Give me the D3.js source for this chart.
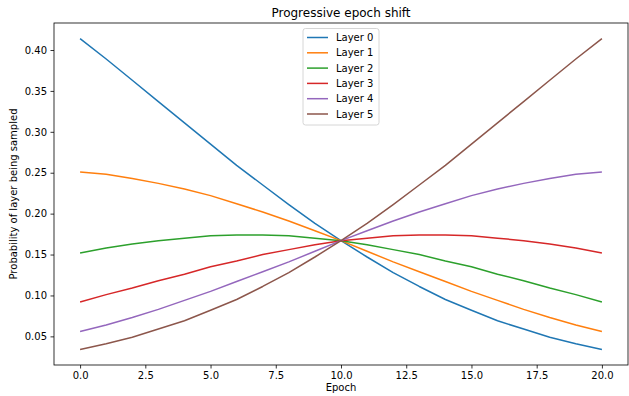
<!DOCTYPE html>
<html>
<head>
<meta charset="utf-8">
<script src="https://cdn.jsdelivr.net/npm/d3@7.9.0/dist/d3.min.js"></script>
<style>
  body { margin: 0; background: #fff; }
  svg { font-family: "DejaVu Sans", sans-serif; }
  .tick text { font-family: "DejaVu Sans", sans-serif; font-size: 10px; fill: #000; }
</style>
</head>
<body>
<svg id="chart" width="629" height="396"></svg>
<script>
// values, one per epoch 0..20
const epochs = d3.range(0, 21);
const layerNames = ['Layer 0', 'Layer 1', 'Layer 2', 'Layer 3', 'Layer 4', 'Layer 5'];
const layer0 = [.414, .389, .363, .337, .311, .285, .259, .235, .211, .188, .167, .147, .128, .111, .095, .082, .069, .059, .049, .041, .034];
const layer1 = [.251, .248, .243, .237, .230, .222, .212, .202, .191, .179, .167, .154, .141, .129, .117, .105, .094, .083, .073, .064, .056];
const layer2 = [.152, .158, .163, .167, .170, .173, .174, .174, .173, .170, .167, .162, .156, .150, .142, .135, .126, .118, .109, .101, .092];
const layer3 = [.092, .101, .109, .118, .126, .135, .142, .150, .156, .162, .167, .170, .173, .174, .174, .173, .170, .167, .163, .158, .152];
const layer4 = [.056, .064, .073, .083, .094, .105, .117, .129, .141, .154, .167, .179, .191, .202, .212, .222, .230, .237, .243, .248, .251];
const layer5 = [.034, .041, .049, .059, .069, .082, .095, .111, .128, .147, .167, .188, .211, .235, .259, .285, .311, .337, .363, .389, .414];
const xTicks = [0, 2.5, 5, 7.5, 10, 12.5, 15, 17.5, 20];
const yTicks = [0.05, 0.10, 0.15, 0.20, 0.25, 0.30, 0.35, 0.40];
const colors = ['#1f77b4', '#ff7f0e', '#2ca02c', '#d62728', '#9467bd', '#8c564b'];

const layers = [layer0, layer1, layer2, layer3, layer4, layer5];

const m = { left: 54, right: 628, top: 23, bottom: 365 };
const svg = d3.select('#chart');

svg.append('clipPath').attr('id', 'clip')
  .append('rect').attr('x', m.left).attr('y', m.top).attr('width', m.right - m.left).attr('height', m.bottom - m.top);

// matplotlib style 5% margins
const xExt = d3.extent(epochs);
const xPad = (xExt[1] - xExt[0]) * 0.05;
const x = d3.scaleLinear().domain([xExt[0] - xPad, xExt[1] + xPad]).range([m.left, m.right]);
const yExt = d3.extent(layers.flat());
const yPad = (yExt[1] - yExt[0]) * 0.05;
const y = d3.scaleLinear().domain([yExt[0] - yPad, yExt[1] + yPad]).range([m.bottom, m.top]);

let line = d3.line().x((d, i) => x(epochs[i])).y(d => y(d));

svg.selectAll('path.series')
  .data(layers)
  .join('path')
  .attr('class', 'series')
  .attr('d', line)
  .attr('fill', 'none')
  .attr('stroke', (d, i) => colors[i])
  .attr('stroke-width', 1.5)
  .attr('stroke-linejoin', 'round')
  .attr('clip-path', 'url(#clip)');

// axes
const xAxis = d3.axisBottom(x).tickValues(xTicks).tickFormat(d3.format('.1f')).tickSize(3.5).tickPadding(3.5);
const yAxis = d3.axisLeft(y).tickValues(yTicks).tickFormat(d3.format('.2f')).tickSize(3.5).tickPadding(3.5);

svg.append('g').attr('transform', `translate(0,${m.bottom})`).call(xAxis)
  .call(g => g.select('.domain').remove());
svg.append('g').attr('transform', `translate(${m.left},0)`).call(yAxis)
  .call(g => g.select('.domain').remove());
svg.selectAll('.tick line').attr('stroke', '#000').attr('stroke-width', 0.8);

svg.append('rect')
  .attr('x', m.left).attr('y', m.top)
  .attr('width', m.right - m.left).attr('height', m.bottom - m.top)
  .attr('fill', 'none').attr('stroke', '#000').attr('stroke-width', 0.8);

// labels
svg.append('text').attr('x', (m.left + m.right) / 2).attr('y', 17)
  .attr('text-anchor', 'middle').attr('font-size', 12).text('Progressive epoch shift');
svg.append('text').attr('x', (m.left + m.right) / 2).attr('y', 391)
  .attr('text-anchor', 'middle').attr('font-size', 10).text('Epoch');
svg.append('text')
  .attr('transform', `translate(17,${(m.top + m.bottom) / 2}) rotate(-90)`)
  .attr('text-anchor', 'middle').attr('font-size', 10).text('Probability of layer being sampled');

// legend
const lg = svg.append('g').attr('transform', `translate(${(m.left + m.right) / 2 - 38},28.5)`);
lg.append('rect').attr('width', 76).attr('height', 96.5).attr('rx', 2.5)
  .attr('fill', '#fff').attr('fill-opacity', 0.8).attr('stroke', '#ccc').attr('stroke-width', 0.8);
const items = lg.selectAll('g.item')
  .data(layerNames)
  .join('g')
  .attr('class', 'item')
  .attr('transform', (d, i) => `translate(0,${9 + i * 15.3})`);
items.append('line').attr('x1', 4).attr('x2', 25)
  .attr('stroke', (d, i) => colors[i]).attr('stroke-width', 1.5);
items.append('text').attr('x', 33).attr('y', 3.6).attr('font-size', 10).text(d => d);
</script>
</body>
</html>
